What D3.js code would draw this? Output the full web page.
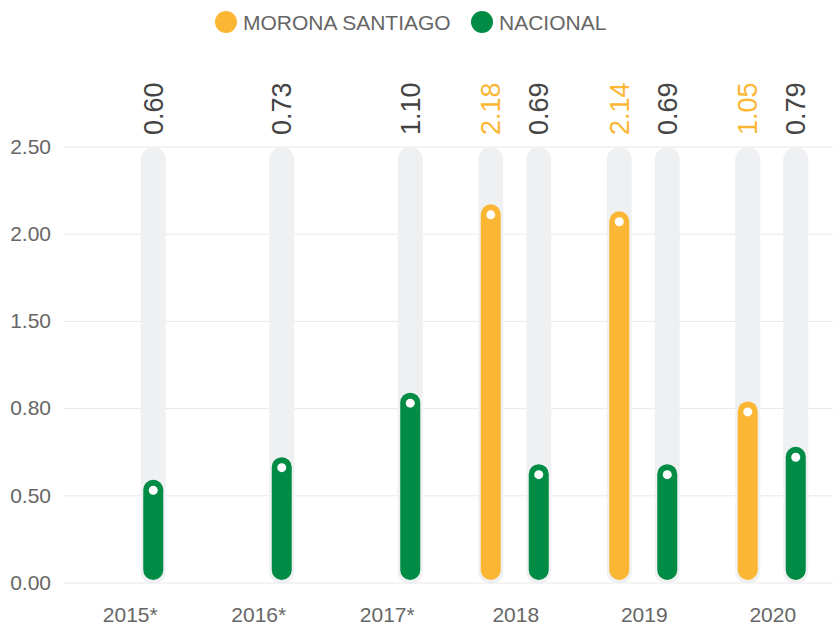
<!DOCTYPE html>
<head>
  <meta charset="utf-8">
  <script src="https://d3js.org/d3.v7.min.js"></script>
  <style>
    body { margin:0; background:#fff; font-family:"Liberation Sans", Arial, sans-serif; }
    .grid line { stroke:#e9e9e9; stroke-width:1px; }
    .tick text { fill:#666; font-size:21px; }
  </style>
</head>
<body>
  <script>
    // data
    var categories = ["2015*", "2016*", "2017*", "2018", "2019", "2020"];
    var seriesNames = ["MORONA SANTIAGO", "NACIONAL"];
    var morona = [null, null, null, 2.18, 2.14, 1.05];
    var nacional = [0.60, 0.73, 1.10, 0.69, 0.69, 0.79];
    var yTicks = [0, 0.5, 1, 1.5, 2, 2.5];
    var yTickLabels = ["0.00", "0.50", "0.80", "1.50", "2.00", "2.50"];
    var colors = ["#fbb634", "#008c44"];

    var W = 833, H = 626;
    var svg = d3.select("body").append("svg")
      .attr("width", W).attr("height", H);

    var x = d3.scaleBand().domain(categories).range([65, 836]);
    var xs = d3.scaleBand().domain(seriesNames).range([-48, 48]);
    var y = d3.scaleLinear().domain([0, 2.5]).range([583, 147]);

    // grid lines
    svg.append("g").attr("class", "grid")
      .selectAll("line").data(yTicks).enter()
      .append("line")
      .attr("x1", 64).attr("x2", W)
      .attr("y1", function(d){ return y(d); })
      .attr("y2", function(d){ return y(d); });

    // y axis labels
    var yAxis = d3.axisLeft(y).tickValues(yTicks)
      .tickSize(0).tickPadding(0)
      .tickFormat(function(d, i){ return yTickLabels[i]; });
    var gy = svg.append("g").attr("transform", "translate(51,0)").call(yAxis);
    gy.select(".domain").remove();
    gy.selectAll("text").attr("dy", "0.3em");

    // x axis labels
    var xAxis = d3.axisBottom(x).tickSize(0).tickPadding(0);
    var gx = svg.append("g").attr("transform", "translate(1,607)").call(xAxis);
    gx.select(".domain").remove();
    gx.selectAll("text").attr("dy", "0.72em");

    // flatten data
    var points = [];
    categories.forEach(function(c, i){
      [morona, nacional].forEach(function(arr, s){
        if (arr[i] != null) points.push({cat:c, s:s, name:seriesNames[s], v:arr[i]});
      });
    });

    var cx = function(d){ return x(d.cat) + x.bandwidth()/2 + xs(d.name) + xs.bandwidth()/2; };

    // background track
    svg.selectAll(".track").data(points).enter()
      .append("rect").attr("class", "track")
      .attr("x", function(d){ return cx(d) - 12.5; })
      .attr("width", 25)
      .attr("y", y(2.5))
      .attr("height", y(0) - y(2.5) + 1)
      .attr("rx", 12.5)
      .attr("fill", "#eff0f2");

    // bars
    svg.selectAll(".bar").data(points).enter()
      .append("rect").attr("class", "bar")
      .attr("x", function(d){ return cx(d) - 10; })
      .attr("width", 20)
      .attr("y", function(d){ return y(d.v) + 1.5; })
      .attr("height", function(d){ return y(0) - 3 - y(d.v) - 1.5; })
      .attr("rx", 10)
      .attr("fill", function(d){ return colors[d.s]; });

    // dots
    svg.selectAll(".dot").data(points).enter()
      .append("circle").attr("class", "dot")
      .attr("cx", cx)
      .attr("cy", function(d){ return y(d.v) + 12; })
      .attr("r", 4.5)
      .attr("fill", "#fff");

    // value labels
    svg.selectAll(".val").data(points).enter()
      .append("text").attr("class", "val")
      .attr("transform", function(d){ return "translate(" + (cx(d) + 9.5) + ",135) rotate(-90)"; })
      .attr("font-size", "27px")
      .attr("fill", function(d){ return d.s === 0 ? colors[0] : "#444"; })
      .text(function(d){ return d.v.toFixed(2); });

    // legend
    var legendX = [226, 482];
    var lg = svg.selectAll(".leg").data(seriesNames).enter()
      .append("g").attr("class", "leg")
      .attr("transform", function(d, i){ return "translate(" + legendX[i] + ",22)"; });
    lg.append("circle").attr("r", 11).attr("fill", function(d, i){ return colors[i]; });
    lg.append("text").attr("x", 17).attr("dy", "0.36em")
      .attr("font-size", "21px").attr("fill", "#666")
      .text(function(d){ return d; });
  </script>
</body>
